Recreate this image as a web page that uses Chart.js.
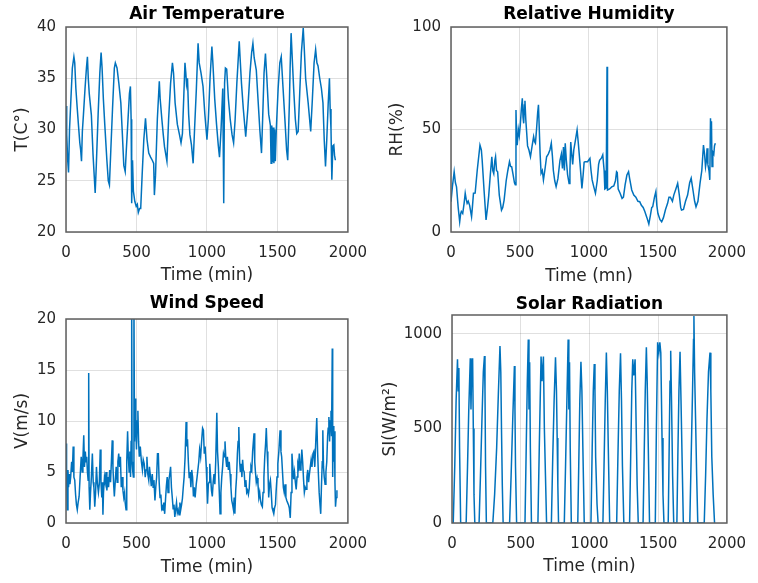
<!DOCTYPE html>
<html>
<head>
<meta charset="utf-8">
<title>Weather data</title>
<script src="https://cdn.jsdelivr.net/npm/chart.js@4/dist/chart.umd.min.js"></script>
<style>
  body { margin: 0; background: #fff; }
  .chart { position: absolute; }
</style>
</head>
<body>
<div class="chart" style="left:0;top:0"><canvas id="chart-temp" width="379" height="291"></canvas></div>
<div class="chart" style="left:379px;top:0"><canvas id="chart-rh" width="379" height="291"></canvas></div>
<div class="chart" style="left:0;top:291px"><canvas id="chart-wind" width="379" height="292"></canvas></div>
<div class="chart" style="left:379px;top:291px"><canvas id="chart-solar" width="379" height="292"></canvas></div>
<script>
// [time (min), value]
const gAirTemperature = [
  [0, 32.3], [5, 29.5], [12, 27], [18, 25.8], [25, 30], [35, 33], [45, 36], [56, 37.1], [62, 36.5], [70, 34],
  [79, 32.2], [88, 30.5], [98, 28.7], [104, 28], [110, 26.9], [116, 29.8], [124, 31.5], [135, 34], [145, 36], [152, 37.1],
  [158, 35], [165, 33.5], [180, 31.4], [192, 27.5], [207, 23.8], [215, 26.5], [228, 31.5], [240, 35.5], [249, 37.5], [256, 36],
  [265, 33], [275, 30.5], [290, 27], [300, 25], [308, 24.6], [318, 28], [330, 32], [343, 36], [350, 36.5], [362, 36],
  [375, 34.5], [389, 32.6], [400, 29.5], [410, 26.5], [420, 25.9], [428, 28], [440, 31], [450, 33.5], [457, 34.2], [462, 31],
  [466, 22.8], [472, 27], [478, 24], [488, 23], [498, 22.5], [506, 22.7], [513, 21.9], [522, 22.3], [530, 22.3], [540, 25.5],
  [552, 29], [564, 31.1], [575, 29], [587, 27.7], [600, 27.3], [612, 27], [622, 26.7], [627, 23.6], [635, 25.5], [648, 31],
  [662, 34.7], [668, 33], [680, 31], [690, 29.5], [699, 28.3], [716, 26.9], [728, 31], [742, 34.5], [755, 36.5], [763, 35.5],
  [774, 32.6], [790, 30.5], [805, 29.5], [816, 28.7], [826, 29.6], [835, 33], [844, 36.5], [850, 35.5], [855, 34.4], [862, 35],
  [870, 31.5], [879, 29.5], [890, 28.5], [902, 26.7], [912, 30], [925, 34], [937, 38.4], [945, 36.5], [958, 35.5], [972, 34.2],
  [985, 31.5], [1000, 29], [1010, 31], [1022, 35], [1035, 38.1], [1042, 36.5], [1055, 33], [1068, 30.5], [1080, 28.5], [1089, 27.3],
  [1100, 30], [1112, 34], [1119, 22.8], [1125, 34.5], [1131, 36], [1140, 35.9], [1152, 33], [1165, 31], [1178, 29.5], [1189, 28.7],
  [1200, 31], [1212, 34.5], [1229, 38.6], [1235, 37], [1245, 34.5], [1258, 32], [1275, 29.3], [1290, 32], [1305, 35.5], [1317, 37.5],
  [1326, 38.4], [1335, 37], [1350, 35.8], [1362, 33], [1375, 30], [1387, 27.7], [1395, 31], [1405, 35.5], [1415, 37.4], [1425, 35],
  [1438, 31.5], [1450, 30.4], [1455, 26.7], [1460, 30.4], [1465, 26.8], [1470, 30.2], [1475, 26.7], [1480, 30], [1485, 26.9], [1492, 30],
  [1505, 34], [1517, 36.5], [1527, 37.1], [1540, 34], [1555, 30.5], [1565, 28], [1573, 27], [1585, 32.7], [1590, 36], [1597, 39.4],
  [1605, 37], [1615, 34], [1627, 31], [1637, 29.6], [1647, 29.8], [1658, 33.5], [1670, 37.5], [1683, 39.9], [1690, 38], [1700, 35],
  [1718, 32.6], [1736, 29.8], [1748, 33], [1760, 36.5], [1771, 37.8], [1780, 36.5], [1788, 36.2], [1800, 35], [1812, 34], [1823, 32.6],
  [1832, 29], [1841, 26.4], [1850, 29], [1860, 32.5], [1869, 35], [1874, 32], [1880, 30], [1886, 25.1], [1893, 28.4], [1900, 28.5],
  [1905, 27.5], [1911, 27]
];

const gRelativeHumidity = [
  [0, 14.8], [10, 22], [23, 29.4], [32, 24], [40, 22], [52, 12], [63, 5], [70, 9], [75, 10], [85, 9],
  [95, 14], [103, 18.9], [110, 16], [117, 14], [125, 15], [135, 13], [149, 7.5], [155, 12], [163, 18.9], [175, 19],
  [190, 30], [210, 42.4], [220, 40], [226, 35], [240, 20], [254, 5.9], [265, 12], [273, 17.4], [285, 28], [296, 36.7],
  [303, 30], [310, 28.5], [318, 35], [323, 36.7], [330, 30], [338, 29.4], [350, 18], [366, 10.7], [375, 12], [385, 15.6],
  [400, 25], [412, 30], [424, 34.3], [432, 32], [440, 31.8], [450, 28], [460, 24], [466, 23], [471, 59.5], [476, 45],
  [480, 42.4], [488, 50], [495, 47], [502, 52], [510, 60], [517, 65.2], [522, 56], [527, 53], [532, 62], [536, 64],
  [542, 55], [548, 49], [555, 42], [565, 40], [576, 36.7], [588, 42], [599, 46.5], [606, 44], [612, 43.3], [620, 50],
  [628, 58], [634, 62], [640, 50], [646, 38], [653, 28.6], [662, 30], [670, 25.4], [680, 30], [693, 36.7], [705, 38],
  [717, 40], [727, 43.3], [735, 37], [742, 30], [752, 25], [762, 22.1], [775, 26], [790, 35], [800, 38], [808, 31],
  [815, 41.5], [822, 30], [828, 43.3], [836, 35], [845, 28], [856, 23.7], [862, 30], [868, 43.9], [875, 38], [882, 33],
  [890, 40], [900, 44], [914, 49.8], [922, 44], [935, 33.6], [949, 21.3], [958, 28], [965, 34], [972, 34.3], [990, 34.3],
  [1007, 35.9], [1015, 30], [1023, 25.4], [1035, 22], [1047, 18.9], [1060, 25], [1070, 33], [1077, 35], [1090, 36], [1100, 37.6],
  [1110, 30], [1115, 21], [1125, 21.5], [1131, 80.6], [1133, 21], [1136, 20.5], [1150, 21], [1165, 22], [1180, 22.5], [1192, 25],
  [1200, 29.4], [1205, 29], [1212, 21], [1225, 19], [1240, 16.4], [1250, 17], [1262, 23], [1275, 27.8], [1287, 29.4], [1295, 26],
  [1310, 20.5], [1325, 18], [1340, 17], [1355, 15], [1368, 14.8], [1380, 13], [1393, 12], [1405, 10], [1420, 7], [1434, 3.9],
  [1445, 8], [1455, 12], [1462, 12.3], [1475, 17], [1485, 19.7], [1492, 13], [1500, 9], [1515, 6], [1527, 5], [1540, 7],
  [1555, 11], [1570, 14], [1580, 17], [1590, 17], [1605, 15], [1615, 18], [1630, 21], [1643, 23.7], [1655, 18], [1665, 12],
  [1671, 10.7], [1685, 11], [1700, 15], [1715, 18], [1730, 24], [1741, 26.2], [1755, 20], [1766, 15], [1776, 12.3], [1790, 15],
  [1805, 23.7], [1818, 30], [1830, 42.4], [1838, 38], [1845, 31.8], [1852, 35], [1856, 40.8], [1862, 33], [1870, 30], [1876, 25.4],
  [1881, 55.5], [1885, 45], [1888, 54], [1892, 32], [1898, 39], [1905, 38], [1910, 42], [1916, 43.3]
];

const gWindSpeed = [
  [0, 7.8], [4, 5], [9, 1.3], [14, 5.2], [18, 3.5], [23, 4.8], [28, 3.8], [33, 4.5], [40, 6], [45, 5],
  [51, 7.5], [56, 4.5], [62, 4.2], [68, 2.8], [74, 1.8], [80, 1.3], [86, 2], [93, 2.6], [100, 4.5], [108, 6.5],
  [115, 5], [120, 6.3], [126, 8.6], [131, 5.5], [137, 7], [142, 6], [147, 6.5], [152, 5], [157, 4.2], [161, 14.7],
  [164, 3.5], [168, 2.6], [170, 1.3], [174, 3], [180, 4.5], [187, 6.8], [193, 4], [198, 3.5], [204, 1.6], [210, 3],
  [216, 5.5], [222, 4], [230, 3], [236, 3.8], [243, 7.2], [248, 4], [254, 2.5], [258, 4], [262, 0.8], [266, 3],
  [273, 4.5], [278, 4], [284, 5], [290, 3.2], [296, 4.5], [302, 3.5], [310, 5.2], [316, 4], [322, 6], [328, 8.1],
  [333, 5.5], [338, 3.8], [343, 2.6], [350, 4.2], [356, 5.5], [363, 4], [368, 6], [374, 6.8], [380, 5.5], [386, 6.5],
  [392, 3.5], [398, 4.5], [404, 3.2], [410, 2.5], [416, 3], [420, 2], [426, 1.3], [431, 6], [437, 9], [442, 6.5],
  [448, 5], [453, 7], [458, 4.5], [462, 8], [466, 22], [469, 6], [474, 5], [478, 4.5], [482, 22], [486, 8],
  [491, 12.2], [495, 9.5], [500, 7.2], [505, 10], [510, 11], [515, 8], [520, 6.5], [527, 7.5], [535, 6], [542, 5.2],
  [548, 6.2], [555, 5.8], [562, 4.5], [568, 5.2], [574, 6.5], [580, 4.8], [587, 4.2], [592, 5.5], [599, 4.6], [605, 3.6],
  [612, 4.8], [618, 3.5], [624, 4.2], [631, 2.2], [637, 3.5], [643, 4.5], [649, 6.8], [655, 6.8], [661, 4], [667, 2.5],
  [673, 2.8], [679, 1.4], [685, 1.6], [688, 1.2], [694, 2], [700, 0.9], [706, 2.3], [712, 3.6], [718, 4.5], [724, 3],
  [730, 4.2], [736, 4.8], [742, 5.5], [748, 3.5], [754, 2.5], [760, 1.4], [766, 1.8], [772, 0.6], [778, 1.3], [784, 2],
  [790, 1], [796, 1.3], [802, 0.8], [808, 2], [814, 1.3], [820, 1.8], [826, 2.4], [832, 3.5], [838, 4.5], [845, 6.5],
  [852, 9.9], [857, 7.5], [862, 8.2], [868, 6], [874, 4.4], [880, 5], [886, 3.5], [892, 5.2], [898, 4.5], [904, 2.6],
  [910, 3.5], [916, 2.5], [924, 3.8], [930, 4.5], [936, 4.5], [942, 6], [948, 7.2], [955, 6.5], [962, 8], [969, 9.3],
  [975, 9.1], [981, 6.8], [987, 7.5], [995, 5.5], [1000, 3.5], [1004, 1.9], [1010, 3.8], [1015, 4], [1020, 5.8], [1026, 4.5],
  [1032, 3.2], [1038, 2.6], [1044, 4], [1050, 4.8], [1056, 3.8], [1062, 6], [1070, 10.8], [1075, 7], [1081, 5.5], [1087, 3.2],
  [1093, 0.9], [1099, 3], [1105, 4.5], [1111, 5.5], [1117, 6.8], [1122, 6.5], [1128, 8], [1134, 6.3], [1140, 5.5], [1145, 6.5],
  [1152, 5.2], [1158, 6], [1164, 4.8], [1170, 3.5], [1176, 2.2], [1182, 1.8], [1188, 1.3], [1193, 2.5], [1198, 0.9], [1204, 3.2],
  [1210, 4.5], [1216, 6.8], [1221, 8], [1226, 9.4], [1232, 6], [1237, 5], [1242, 5.8], [1248, 4.5], [1253, 6.2], [1258, 5.2],
  [1264, 5], [1270, 3.6], [1276, 4.2], [1282, 3], [1288, 3.2], [1294, 2.8], [1300, 3.4], [1306, 5], [1312, 5.5], [1318, 5.2],
  [1324, 7], [1334, 8.8], [1339, 6], [1344, 5], [1350, 4], [1356, 4.4], [1362, 3.8], [1368, 2.5], [1374, 3], [1380, 2.2],
  [1386, 1.8], [1393, 1.6], [1398, 3], [1404, 4.5], [1410, 6.5], [1416, 7.8], [1421, 9.3], [1427, 7], [1432, 5.5], [1438, 2.5],
  [1444, 3.8], [1450, 4.2], [1456, 3], [1462, 1.5], [1468, 1.2], [1474, 0.9], [1480, 1.5], [1486, 1.8], [1491, 3.2], [1497, 4.5],
  [1503, 5.8], [1510, 7], [1516, 8.5], [1519, 9.1], [1525, 7], [1530, 6.5], [1536, 5], [1542, 3.5], [1548, 3], [1554, 3.8],
  [1560, 2.5], [1566, 2.2], [1572, 2], [1578, 1.8], [1584, 1.5], [1591, 0.5], [1597, 3], [1603, 6.8], [1609, 5.5], [1615, 4.3],
  [1621, 5], [1627, 4], [1633, 3.3], [1639, 4.5], [1645, 5.8], [1650, 5.5], [1655, 6.8], [1661, 5.2], [1667, 5.5], [1673, 7.2],
  [1679, 6], [1685, 4.3], [1691, 3], [1697, 3.5], [1703, 3.3], [1709, 4.5], [1715, 5.2], [1721, 4], [1727, 4.8], [1733, 5.5],
  [1739, 6.2], [1745, 5.5], [1752, 6.8], [1758, 7], [1765, 5.5], [1772, 8], [1779, 10.3], [1785, 7], [1790, 5], [1796, 3],
  [1802, 1.8], [1807, 0.9], [1812, 3.5], [1818, 6], [1822, 9.1], [1827, 5.5], [1832, 4.5], [1838, 3.8], [1844, 5], [1850, 6],
  [1856, 8.5], [1860, 9.3], [1865, 10.4], [1870, 8], [1875, 10], [1880, 11], [1884, 8.5], [1889, 17.1], [1892, 4.5], [1896, 9.5],
  [1900, 6], [1904, 9], [1908, 4], [1912, 1.6], [1917, 2.5], [1922, 3.2]
];

const gSolarRadiation = [
  [0, 0], [9, 0], [20, 300], [30, 650], [40, 866], [45, 700], [50, 820], [55, 400], [63, 0],
  [103, 0], [113, 300], [122, 600], [133, 871], [138, 600], [143, 800], [150, 871], [155, 500], [160, 150], [166, 0],
  [197, 0], [207, 250], [218, 550], [228, 800], [236, 883], [240, 700], [244, 300], [250, 0],
  [297, 0], [310, 150], [325, 400], [338, 700], [349, 936], [355, 800], [360, 500], [366, 200], [372, 0],
  [419, 0], [430, 250], [442, 550], [454, 830], [458, 600], [462, 300], [470, 0],
  [531, 0], [540, 400], [548, 750], [555, 971], [560, 600], [565, 850], [570, 400], [578, 0],
  [625, 0], [635, 400], [643, 700], [648, 880], [655, 750], [665, 880], [672, 500], [680, 250], [688, 0],
  [723, 0], [733, 350], [743, 650], [753, 876], [760, 700], [765, 450], [770, 200], [775, 0],
  [817, 0], [826, 300], [836, 650], [845, 971], [850, 600], [855, 850], [860, 400], [868, 0],
  [915, 0], [922, 300], [930, 650], [938, 853], [945, 700], [952, 400], [962, 0],
  [1011, 0], [1020, 400], [1028, 700], [1035, 841], [1040, 700], [1045, 350], [1055, 100], [1063, 0],
  [1098, 0], [1106, 300], [1115, 650], [1123, 901], [1130, 700], [1137, 400], [1147, 0],
  [1198, 0], [1207, 350], [1217, 700], [1226, 897], [1233, 650], [1240, 300], [1250, 0],
  [1292, 0], [1300, 350], [1308, 700], [1315, 866], [1322, 780], [1332, 866], [1340, 500], [1347, 200], [1355, 0],
  [1390, 0], [1398, 350], [1406, 700], [1414, 929], [1420, 750], [1428, 400], [1437, 0],
  [1479, 0], [1487, 500], [1496, 956], [1505, 900], [1512, 956], [1519, 900], [1528, 450], [1535, 150], [1542, 0],
  [1573, 0], [1580, 400], [1586, 750], [1591, 911], [1597, 650], [1605, 250], [1613, 0],
  [1636, 0], [1643, 350], [1651, 700], [1659, 906], [1666, 650], [1675, 300], [1683, 0],
  [1730, 0], [1740, 350], [1750, 700], [1757, 970], [1760, 1095], [1765, 800], [1772, 550], [1780, 250], [1788, 0],
  [1835, 0], [1845, 250], [1855, 550], [1866, 800], [1877, 901], [1883, 700], [1890, 350], [1900, 150], [1910, 0], [1915, 0]
];

// axis ranges [min, max] and tick labels
const gTimeRange = [0, 2000];
const gTimeTicks = [0, 500, 1000, 1500, 2000];
const gTempRange = [20, 40];
const gTempTicks = [20, 25, 30, 35, 40];
const gRhRange = [0, 100];
const gRhTicks = [0, 50, 100];
const gWindRange = [0, 20];
const gWindTicks = [0, 5, 10, 15, 20];
const gSolarRange = [0, 1100];
const gSolarTicks = [0, 500, 1000];

const G_LINE_COLOR = '#0072BD';
const G_TEXT_COLOR = '#262626';
const G_GRID_COLOR = 'rgba(0,0,0,0.12)';
const G_FONT = 'DejaVu Sans';

// draw full axes box like matlab
const gBoxPlugin = {
  id: 'axesBox',
  afterDraw(chart) {
    let vArea = chart.chartArea;
    let vCtx = chart.ctx;
    vCtx.save();
    vCtx.strokeStyle = '#5f5f5f';
    vCtx.lineWidth = 1.5;
    vCtx.strokeRect(vArea.left, vArea.top, vArea.right - vArea.left, vArea.bottom - vArea.top);
    vCtx.restore();
  },
};

// fixed tick values
function setTicks(paramValues) {
  return (scale) => {
    scale.ticks = paramValues.map((v) => ({ value: v }));
  };
}

// render chart
function renderChart(paramId, paramData, paramRange, paramTicks, paramOpt) {
  let vCanvas = document.getElementById(paramId);
  new Chart(vCanvas, {
    type: 'line',
    data: {
      datasets: [
        {
          data: paramData.map((p) => ({ x: p[0], y: p[1] })),
          borderColor: G_LINE_COLOR,
          borderWidth: 1.5,
          pointRadius: 0,
          tension: 0,
        },
      ],
    },
    options: {
      responsive: false,
      animation: false,
      events: [],
      layout: { padding: { top: 0, right: paramOpt.right, bottom: 0, left: 0 } },
      plugins: {
        legend: { display: false },
        tooltip: { enabled: false },
        title: {
          display: true,
          fullSize: false,
          text: paramOpt.title,
          color: '#000',
          font: { family: G_FONT, size: 17, weight: 'bold' },
          padding: paramOpt.titlePad,
        },
      },
      scales: {
        x: {
          type: 'linear',
          min: gTimeRange[0],
          max: gTimeRange[1],
          afterBuildTicks: setTicks(gTimeTicks),
          afterFit: (scale) => {
            scale.height = paramOpt.xHeight;
          },
          ticks: {
            padding: 12,
            maxRotation: 0,
            autoSkip: false,
            color: G_TEXT_COLOR,
            font: { family: G_FONT, size: 15 },
            callback: (v) => String(v),
          },
          grid: { color: G_GRID_COLOR, drawTicks: false },
          border: { display: false },
          title: {
            display: true,
            text: paramOpt.xLabel,
            color: G_TEXT_COLOR,
            font: { family: G_FONT, size: 17 },
            padding: { top: 0, bottom: paramOpt.xTitlePad },
          },
        },
        y: {
          min: paramRange[0],
          max: paramRange[1],
          afterBuildTicks: setTicks(paramTicks),
          afterFit: (scale) => {
            scale.width = paramOpt.yWidth;
          },
          ticks: {
            padding: 10,
            color: G_TEXT_COLOR,
            font: { family: G_FONT, size: 15 },
            callback: (v) => String(v),
          },
          grid: { color: G_GRID_COLOR, drawTicks: false },
          border: { display: false },
          title: {
            display: true,
            text: paramOpt.yLabel,
            color: G_TEXT_COLOR,
            font: { family: G_FONT, size: 17 },
            padding: { top: paramOpt.yTitlePad, bottom: 0 },
          },
        },
      },
    },
    plugins: [gBoxPlugin],
  });
}

renderChart('chart-temp', gAirTemperature, gTempRange, gTempTicks, {
  title: 'Air Temperature',
  xLabel: 'Time (min)',
  yLabel: 'T(C°)',
  titlePad: { top: 4, bottom: 2.6 },
  right: 27,
  xHeight: 59,
  yWidth: 66,
  xTitlePad: 5,
  yTitlePad: 12,
});

renderChart('chart-rh', gRelativeHumidity, gRhRange, gRhTicks, {
  title: 'Relative Humidity',
  xLabel: 'Time (mn)',
  yLabel: 'RH(%)',
  titlePad: { top: 4.4, bottom: 2.2 },
  right: 21,
  xHeight: 59,
  yWidth: 72,
  xTitlePad: 4,
  yTitlePad: 8,
});

renderChart('chart-wind', gWindSpeed, gWindRange, gWindTicks, {
  title: 'Wind Speed',
  xLabel: 'Time (min)',
  yLabel: 'V(m/s)',
  titlePad: { top: 2.4, bottom: 5.2 },
  right: 28,
  xHeight: 60,
  yWidth: 66,
  xTitlePad: 5.5,
  yTitlePad: 12,
});

renderChart('chart-solar', gSolarRadiation, gSolarRange, gSolarTicks, {
  title: 'Solar Radiation',
  xLabel: 'Time (min)',
  yLabel: 'SI(W/m²)',
  titlePad: { top: 3.6, bottom: 0 },
  right: 21,
  xHeight: 60,
  yWidth: 73,
  xTitlePad: 6,
  yTitlePad: 1,
});
</script>
</body>
</html>
